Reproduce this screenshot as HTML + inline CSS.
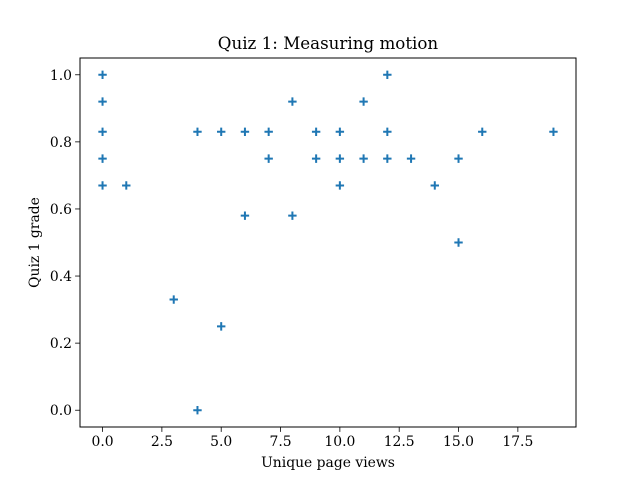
<!DOCTYPE html>
<html><head><meta charset="utf-8"><style>
body{margin:0;background:#fff;}
svg{display:block;font-family:"DejaVu Serif","Liberation Serif",serif;}
</style></head><body>
<svg id="chart" width="640" height="480" viewBox="0 0 640 480" xmlns="http://www.w3.org/2000/svg">
<rect x="0" y="0" width="640" height="480" fill="#fff"/>
<text x="328" y="49" font-size="16.7" text-anchor="middle" fill="#000">Quiz 1: Measuring motion</text>
<g id="marks"></g>
<g id="xticks"></g>
<g id="yticks"></g>
<rect x="80" y="58" width="496" height="369" fill="none" stroke="#000" stroke-width="1"/>
<text x="328" y="467" font-size="13.9" text-anchor="middle">Unique page views</text>
<text transform="translate(39,242.5) rotate(-90)" font-size="13.9" text-anchor="middle">Quiz 1 grade</text>
</svg>
<script>
const pageViews = [0,0,0,0,0,1,3,4,4,5,5,6,6,7,7,8,8,9,9,10,10,10,11,11,12,12,12,13,14,15,15,16,19];
const grades = [1.0,0.92,0.83,0.75,0.67,0.67,0.33,0.83,0.0,0.83,0.25,0.83,0.58,0.83,0.75,0.92,0.58,0.83,0.75,0.83,0.75,0.67,0.92,0.75,1.0,0.83,0.75,0.75,0.67,0.75,0.5,0.83,0.83];
const xTickLabels = ["0.0","2.5","5.0","7.5","10.0","12.5","15.0","17.5"];
const yTickLabels = ["0.0","0.2","0.4","0.6","0.8","1.0"];
const NS="http://www.w3.org/2000/svg";
const L=80,R=576,T=58,B=427;
const xmin=-0.95,xmax=19.95,ymin=-0.05,ymax=1.05;
function xs(v){return L+(v-xmin)/(xmax-xmin)*(R-L);}
function ys(v){return B-(v-ymin)/(ymax-ymin)*(B-T);}
function mk(t,a){const e=document.createElementNS(NS,t);for(const k in a)e.setAttribute(k,a[k]);return e;}
const marks=document.getElementById('marks');
pageViews.forEach((v,i)=>{
  const cx=xs(v),cy=ys(grades[i]);
  const p=mk('path',{d:`M${cx-4.2},${cy}H${cx+4.2}M${cx},${cy-4.2}V${cy+4.2}`,stroke:'#1f77b4','stroke-width':2,fill:'none'});
  
  
  marks.appendChild(p);
});
const xg=document.getElementById('xticks');
xTickLabels.forEach(s=>{
  const x=xs(parseFloat(s));
  const l=mk('line',{x1:x,x2:x,y1:B,y2:B+4.9,stroke:'#000','stroke-width':0.8});
  
  
  xg.appendChild(l);
  const t=mk('text',{x:x,y:B+19,'font-size':13.9,'text-anchor':'middle'});
  
  
  t.textContent=s;xg.appendChild(t);
});
const yg=document.getElementById('yticks');
yTickLabels.forEach(s=>{
  const y=ys(parseFloat(s));
  const l=mk('line',{x1:L-4.9,x2:L,y1:y,y2:y,stroke:'#000','stroke-width':0.8});
  
  
  yg.appendChild(l);
  const t=mk('text',{x:L-8,y:y+5,'font-size':13.9,'text-anchor':'end'});
  
  
  t.textContent=s;yg.appendChild(t);
});
</script>
</body></html>
